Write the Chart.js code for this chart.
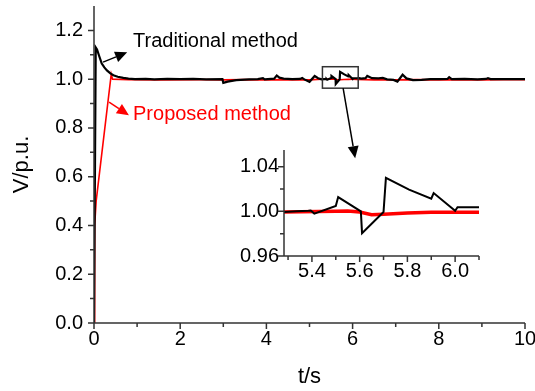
<!DOCTYPE html>
<html><head><meta charset="utf-8">
<script src="https://cdn.jsdelivr.net/npm/chart.js@4/dist/chart.umd.min.js"></script>
<style>
html,body{margin:0;padding:0;background:#fff;}
#wrap{position:relative;width:535px;height:391px;overflow:hidden;}
#main{position:absolute;left:0;top:0;}
#inset{position:absolute;left:230px;top:140px;}
</style></head><body>
<div id="wrap"><canvas id="main" width="535" height="391"></canvas><canvas id="inset" width="260" height="150"></canvas></div>
<script>
// ---- data ----
const timeTraditional = [0,0.04,0.07,0.12,0.18,0.24,0.30,0.38,0.45,0.55,0.68,0.80,0.95,1.2,1.4,1.7,2.0,2.3,2.6,2.98,3.0,3.1,3.3,3.6,3.8,3.92,3.96,4.18,4.24,4.3,4.4,4.6,4.78,4.83,4.88,5.0,5.12,5.2,5.28,5.336,5.385,5.395,5.41,5.50,5.51,5.605,5.61,5.70,5.71,5.807,5.90,5.91,6.0,6.01,6.1,6.15,6.2,6.3,6.34,6.45,6.6,6.7,6.8,6.95,7.04,7.16,7.25,7.4,7.6,7.8,8.0,8.2,8.24,8.3,8.6,8.9,9.1,9.14,9.2,9.5,10];
const voltageTraditional = [0,1.13,1.122,1.095,1.064,1.048,1.036,1.024,1.016,1.010,1.005,1.002,1.000,1.001,0.999,1.001,1.000,1.001,0.999,1.000,0.985,0.990,0.996,0.999,1.000,1.004,0.999,1.002,1.015,1.006,1.002,1.000,1.001,1.005,0.999,0.989,1.013,1.004,0.9994,1.0,1.0006,1.0008,0.998,1.0048,1.0128,1.0,0.9805,0.9994,1.030,1.0195,1.0114,1.0164,1.0006,1.0038,1.0038,1.004,1.002,1.004,1.013,1.004,1.003,1.005,0.999,0.997,0.990,1.018,1.003,0.996,0.997,1.000,1.000,1.001,1.008,1.000,1.001,0.999,1.001,1.004,1.000,1.000,1.000];
const timeProposed = [0,0.01,0.02,0.05,0.40,0.43,0.8,1.5,2.5,3.0,3.5,4.0,4.5,5.0,5.28,5.5,5.55,5.6,5.65,5.7,5.8,5.9,6.0,6.1,6.5,7.0,7.5,8.0,8.5,9.0,9.5,10];
const voltageProposed = [0,0.32,0.40,0.50,1.02,1.0,0.998,0.997,0.998,0.997,0.998,0.997,0.998,0.997,0.9994,1.0,1.0003,0.9995,0.9970,0.9975,0.9985,0.9992,0.9993,0.9991,0.997,0.997,0.998,0.997,0.998,0.997,0.998,0.998];
const seriesNames = ["Traditional method","Proposed method"];
const mainXTicks = [0,2,4,6,8,10];
const mainXMinor = [1,3,5,7,9];
const mainYTicks = [0.0,0.2,0.4,0.6,0.8,1.0,1.2];
const mainYMinor = [0.1,0.3,0.5,0.7,0.9,1.1];
const insetXTicks = [5.4,5.6,5.8,6.0];
const insetXMinor = [5.3,5.5,5.7,5.9,6.1];
const insetYTicks = [0.96,1.00,1.04];
const insetYMinor = [0.98,1.02];

const FONT = "'Liberation Sans', Arial, sans-serif";
const AXIS = '#333';
const toPts = (ts, vs) => ts.map((t,i)=>({x:t, y:vs[i]}));

function setTicks(arr){ return (scale)=>{ scale.ticks = arr.map(v=>({value:v})); }; }
function fixW(w){ return (s)=>{ s.width = w; s.paddingTop=0; s.paddingBottom=0; }; }
function fixH(h){ return (s)=>{ s.height = h; s.paddingLeft=0; s.paddingRight=0; }; }

function axesPlugin(xMajor,xMinor,yMajor,yMinor){
  return {id:'axesDraw', afterDatasetsDraw(chart){
    const c=chart.ctx, a=chart.chartArea, xs=chart.scales.x, ys=chart.scales.y;
    c.save(); c.strokeStyle=AXIS; c.lineWidth=1.5;
    c.beginPath();
    c.moveTo(a.left, a.top); c.lineTo(a.left, a.bottom); c.lineTo(a.right, a.bottom);
    xMajor.forEach(v=>{const p=xs.getPixelForValue(v); c.moveTo(p,a.bottom); c.lineTo(p,a.bottom+6);});
    xMinor.forEach(v=>{const p=xs.getPixelForValue(v); c.moveTo(p,a.bottom); c.lineTo(p,a.bottom+4);});
    yMajor.forEach(v=>{const p=ys.getPixelForValue(v); c.moveTo(a.left,p); c.lineTo(a.left-6,p);});
    yMinor.forEach(v=>{const p=ys.getPixelForValue(v); c.moveTo(a.left,p); c.lineTo(a.left-4,p);});
    c.stroke(); c.restore();
  }};
}

function arrow(c, x1,y1,x2,y2,color){
  const ang=Math.atan2(y2-y1,x2-x1), L=12, W=5.5;
  c.save(); c.strokeStyle=color; c.fillStyle=color; c.lineWidth=1.5;
  c.beginPath(); c.moveTo(x1,y1); c.lineTo(x2-L*Math.cos(ang), y2-L*Math.sin(ang)); c.stroke();
  c.beginPath(); c.moveTo(x2,y2);
  c.lineTo(x2-L*Math.cos(ang)+W*Math.sin(ang), y2-L*Math.sin(ang)-W*Math.cos(ang));
  c.lineTo(x2-L*Math.cos(ang)-W*Math.sin(ang), y2-L*Math.sin(ang)+W*Math.cos(ang));
  c.closePath(); c.fill(); c.restore();
}

const annotPlugin = {id:'annot', afterDraw(chart){
  const c=chart.ctx, xs=chart.scales.x, ys=chart.scales.y;
  const X=v=>xs.getPixelForValue(v), Y=v=>ys.getPixelForValue(v);
  c.save();
  c.font = "20px "+FONT; c.textBaseline='middle'; c.textAlign='left';
  c.fillStyle='#000'; c.fillText(seriesNames[0], X(0.905), Y(1.156));
  c.fillStyle='#ff0000'; c.fillText(seriesNames[1], X(0.905), Y(0.857));
  arrow(c, X(0.21),Y(1.07), X(0.77),Y(1.11), '#000');
  arrow(c, X(0.35),Y(0.906), X(0.81),Y(0.852), '#ff0000');
  c.strokeStyle=AXIS; c.lineWidth=1.5;
  c.strokeRect(X(5.30), Y(1.051), X(6.13)-X(5.30), Y(0.963)-Y(1.051));
  arrow(c, X(5.78),Y(0.963), X(6.06),Y(0.676), '#000');
  c.restore();
}};

new Chart(document.getElementById('main'), {
  type:'line',
  data:{datasets:[
    {label:seriesNames[0], data:toPts(timeTraditional,voltageTraditional), borderColor:'#000', borderWidth:2.2, pointRadius:0, tension:0},
    {label:seriesNames[1], data:toPts(timeProposed,voltageProposed), borderColor:'#ff0000', borderWidth:1.6, pointRadius:0, tension:0}
  ]},
  options:{
    responsive:false, animation:false, devicePixelRatio:1,
    layout:{padding:{top:6,right:10,left:0,bottom:0}},
    plugins:{legend:{display:false}, tooltip:{enabled:false}},
    scales:{
      x:{type:'linear', min:0, max:10, afterBuildTicks:setTicks(mainXTicks), afterFit:fixH(68),
         grid:{display:false, drawTicks:false}, border:{display:false},
         ticks:{autoSkip:false, maxRotation:0, padding:4, color:'#000', font:{family:FONT,size:20}, callback:v=>String(v)},
         title:{display:true, text:'t/s', color:'#000', font:{family:FONT,size:22}, padding:{top:0,bottom:1}}},
      y:{type:'linear', min:0, max:1.3, afterBuildTicks:setTicks(mainYTicks), afterFit:fixW(94),
         grid:{display:false, drawTicks:false}, border:{display:false},
         ticks:{autoSkip:false, padding:11, color:'#000', font:{family:FONT,size:20}, callback:v=>Number(v).toFixed(1)},
         title:{display:true, text:'V/p.u.', color:'#000', font:{family:FONT,size:22}, padding:{top:9,bottom:0}}}
    }
  },
  plugins:[axesPlugin(mainXTicks,mainXMinor,mainYTicks,mainYMinor), annotPlugin]
});

new Chart(document.getElementById('inset'), {
  type:'line',
  data:{datasets:[
    {label:seriesNames[0], data:toPts(timeTraditional,voltageTraditional), borderColor:'#000', borderWidth:2, pointRadius:0, tension:0},
    {label:seriesNames[1], data:toPts(timeProposed,voltageProposed), borderColor:'#ff0000', borderWidth:3.5, pointRadius:0, tension:0}
  ]},
  options:{
    responsive:false, animation:false, devicePixelRatio:1,
    layout:{padding:{top:10,right:11,left:0,bottom:0}},
    plugins:{legend:{display:false}, tooltip:{enabled:false}},
    scales:{
      x:{type:'linear', min:5.283, max:6.1, afterBuildTicks:setTicks(insetXTicks), afterFit:fixH(34),
         grid:{display:false, drawTicks:false}, border:{display:false},
         ticks:{autoSkip:false, maxRotation:0, padding:3, color:'#000', font:{family:FONT,size:20}, callback:v=>Number(v).toFixed(1)}},
      y:{type:'linear', min:0.96, max:1.055, afterBuildTicks:setTicks(insetYTicks), afterFit:fixW(54),
         grid:{display:false, drawTicks:false}, border:{display:false},
         ticks:{autoSkip:false, padding:5, color:'#000', font:{family:FONT,size:20}, callback:v=>Number(v).toFixed(2)}}
    }
  },
  plugins:[axesPlugin(insetXTicks,insetXMinor,insetYTicks,insetYMinor)]
});
</script>
</body></html>
